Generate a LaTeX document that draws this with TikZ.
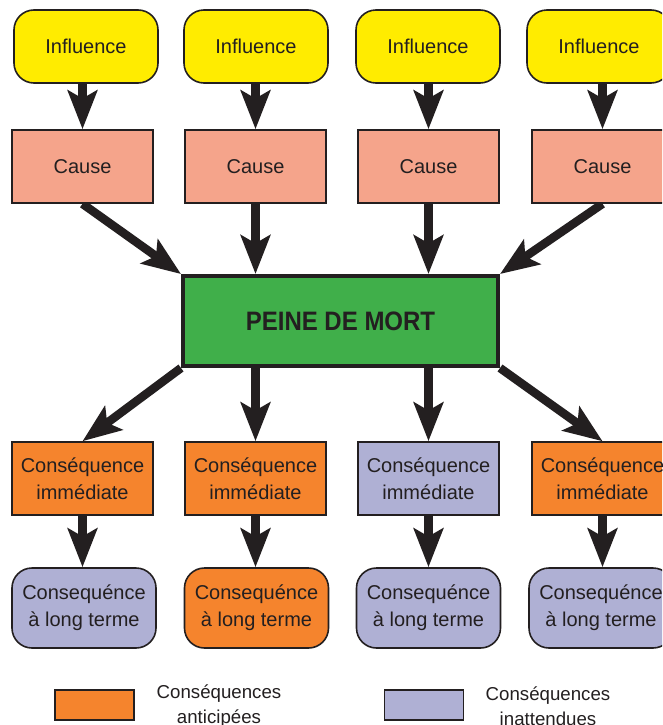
\documentclass[tikz,border=0pt]{standalone}
\usepackage{fontspec}
\setmainfont{Liberation Sans}
\newfontfamily\condfont[FakeStretch=0.9]{Liberation Sans}
\usetikzlibrary{arrows.meta}
\definecolor{ink}{HTML}{231F20}
\definecolor{yel}{HTML}{FFEC00}
\definecolor{salmon}{HTML}{F5A48B}
\definecolor{grn}{HTML}{40AF4A}
\definecolor{orng}{HTML}{F5842D}
\definecolor{lav}{HTML}{AFB0D4}
\pgfdeclarelayer{back}
\pgfdeclarelayer{bg}
\pgfsetlayers{back,bg,main}
\tikzset{
  box/.style={draw=ink, line width=1.2pt, inner sep=0pt, text=ink, align=center,
    font=\fontsize{15}{20}\selectfont},
  infl/.style={box, fill=yel, rounded corners=15pt, minimum width=108pt, minimum height=54.75pt},
  cause/.style={box, fill=salmon, minimum width=105.75pt, minimum height=54.75pt},
  imm/.style={box, minimum width=105.75pt, minimum height=54.75pt},
  lt/.style={box, rounded corners=15pt, minimum width=108pt, minimum height=60pt},
  main/.style={box, fill=grn, line width=3pt, minimum width=236.25pt, minimum height=67.5pt,
    font=\condfont\bfseries\fontsize{20}{24}\selectfont},
  legbox/.style={box, minimum width=59.25pt, minimum height=22.5pt},
  legtext/.style={text=ink, align=center, inner sep=0pt, font=\fontsize{14}{18.75}\selectfont},
  arr/.style={draw=ink, line width=6.4pt, -{Stealth[length=29pt,width=22pt,inset=6pt]}}
}
\begin{document}
\begin{tikzpicture}[x=0.75pt,y=-0.75pt]
\clip (0,0) rectangle (662,725);
\begin{pgfonlayer}{back}
\fill[white] (0,0) rectangle (662,725);
\end{pgfonlayer}

% influences
\node[infl] (i1) at (86,46.5) {Influence};
\node[infl] (i2) at (256,46.5) {Influence};
\node[infl] (i3) at (428,46.5) {Influence};
\node[infl] (i4) at (599,46.5) {Influence};

% causes
\node[cause] (c1) at (82.5,166.5) {Cause};
\node[cause] (c2) at (255.5,166.5) {Cause};
\node[cause] (c3) at (428.5,166.5) {Cause};
\node[cause] (c4) at (602.5,166.5) {Cause};

% main
\node[main] (g) at (340.5,321) {PEINE DE MORT};

% immediate consequences
\node[imm, fill=orng] (m1) at (82.5,478.5) {Conséquence\\immédiate};
\node[imm, fill=orng] (m2) at (255.5,478.5) {Conséquence\\immédiate};
\node[imm, fill=lav]  (m3) at (428.5,478.5) {Conséquence\\immédiate};
\node[imm, fill=orng] (m4) at (602.5,478.5) {Conséquence\\immédiate};

% long term
\node[lt, fill=lav]  (l1) at (84,608) {Consequénce\\à long terme};
\node[lt, fill=orng] (l2) at (256.5,608) {Consequénce\\à long terme};
\node[lt, fill=lav]  (l3) at (428.5,608) {Consequénce\\à long terme};
\node[lt, fill=lav]  (l4) at (601,608) {Consequénce\\à long terme};

% legend
\node[legbox, fill=orng] (k1) at (94.5,705) {};
\node[legtext] (t1) at (219,706) {Conséquences\\anticipées};
\node[legbox, fill=lav] (k2) at (424,705) {};
\node[legtext] (t2) at (548,706) {Conséquences\\inattendues};

\begin{pgfonlayer}{bg}
\foreach \k in {1,...,4} {
  \draw[arr] (c\k.north |- i\k.south) -- (c\k.north);
  \draw[arr] (m\k.south) -- (m\k.south |- l\k.north);
}
\draw[arr] (c1.south) -- (g.north west);
\draw[arr] (c2.south) -- (c2.south |- g.north);
\draw[arr] (c3.south) -- (c3.south |- g.north);
\draw[arr] (c4.south) -- (g.north east);
\draw[arr] (g.south west) -- (m1.north);
\draw[arr] (m2.north |- g.south) -- (m2.north);
\draw[arr] (m3.north |- g.south) -- (m3.north);
\draw[arr] (g.south east) -- (m4.north);
\end{pgfonlayer}
\end{tikzpicture}
\end{document}
